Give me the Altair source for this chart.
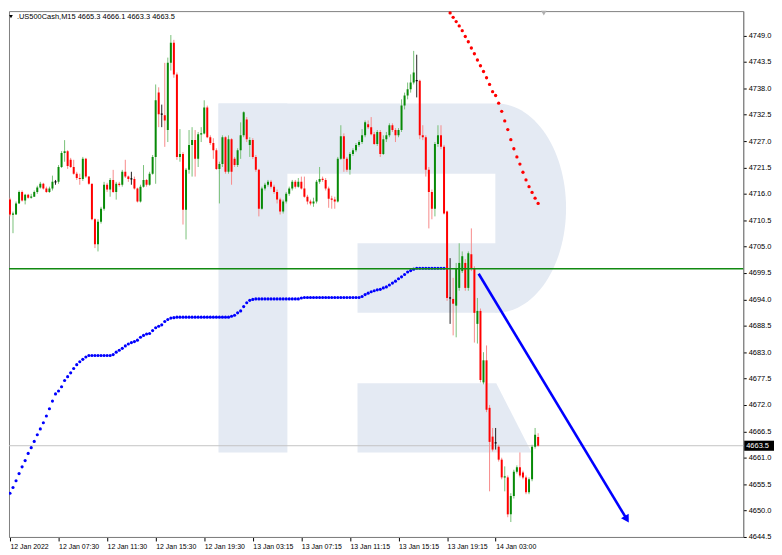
import math
import altair as alt
import pandas as pd

# ---------------- data ----------------
symbol = ".US500Cash,M15"

bar_open = [
    4714.8, 4711.7, 4711.7, 4714.0, 4716.4, 4714.6, 4715.8, 4715.2, 4715.4, 4716.4,
    4717.3, 4718.1, 4717.1, 4716.4, 4717.1, 4718.5, 4718.5, 4721.6, 4724.5, 4724.9,
    4723.1, 4721.6, 4720.2, 4719.3, 4719.1, 4723.3, 4719.6, 4718.1, 4710.7, 4705.5,
    4710.2, 4712.9, 4717.9, 4716.9, 4718.9, 4716.4, 4718.1, 4717.9, 4720.6, 4719.6,
    4719.1, 4719.1, 4717.1, 4714.4, 4717.5, 4718.9, 4717.9, 4720.2, 4723.7, 4737.1,
    4732.6, 4732.4, 4729.3, 4743.3, 4747.5, 4740.9, 4723.7, 4724.3, 4712.7, 4721.0,
    4726.2, 4727.2, 4723.3, 4728.4, 4728.6, 4734.0, 4727.8, 4726.6, 4725.1, 4721.2,
    4722.2, 4727.8, 4720.6, 4727.4, 4723.3, 4722.0, 4725.1, 4728.2, 4731.5, 4726.2,
    4727.2, 4723.7, 4721.0, 4712.9, 4717.1, 4717.9, 4718.5, 4717.5, 4716.4, 4714.8,
    4712.3, 4714.4, 4716.0, 4717.1, 4718.5, 4717.5, 4718.5, 4717.1, 4715.4, 4714.4,
    4714.0, 4714.4, 4718.5, 4719.1, 4718.9, 4717.1, 4715.0, 4714.8, 4714.4, 4723.3,
    4728.0, 4723.3, 4721.0, 4724.3, 4725.1, 4726.2, 4726.8, 4728.2, 4730.5, 4729.9,
    4728.4, 4726.4, 4728.9, 4724.3, 4727.4, 4728.2, 4730.3, 4729.3, 4728.2, 4729.3,
    4734.4, 4736.5, 4737.8, 4739.2, 4739.6, 4739.6, 4728.2, 4727.8, 4721.0, 4716.4,
    4712.9, 4726.4, 4728.2, 4725.8, 4712.3, 4694.3, 4694.1, 4692.7, 4696.4, 4699.9,
    4701.6, 4696.4, 4703.4, 4700.5, 4688.9, 4691.6, 4676.7, 4681.3, 4671.4, 4665.4,
    4664.1, 4663.3, 4660.6, 4656.9, 4656.9, 4649.2, 4653.0, 4658.1, 4659.0, 4657.9,
    4656.9, 4653.8, 4656.5, 4663.3, 4665.3,
]
bar_high = [
    4715.2, 4712.3, 4714.4, 4716.7, 4716.7, 4716.0, 4716.0, 4716.0, 4716.7, 4717.7,
    4718.5, 4718.3, 4717.5, 4717.5, 4719.8, 4718.9, 4722.0, 4724.9, 4727.2, 4725.1,
    4723.5, 4723.1, 4720.6, 4720.2, 4723.7, 4723.5, 4719.6, 4718.1, 4710.9, 4710.7,
    4713.3, 4718.5, 4718.3, 4719.3, 4721.0, 4718.5, 4718.5, 4721.0, 4723.1, 4719.8,
    4720.6, 4719.6, 4717.3, 4717.9, 4722.0, 4719.1, 4720.6, 4724.1, 4738.8, 4738.2,
    4734.6, 4743.3, 4744.4, 4749.1, 4748.1, 4741.3, 4729.5, 4724.7, 4721.4, 4729.3,
    4729.9, 4729.3, 4728.9, 4729.9, 4735.5, 4734.4, 4728.2, 4727.6, 4725.5, 4722.7,
    4728.2, 4728.0, 4728.2, 4727.6, 4723.7, 4725.5, 4730.9, 4733.2, 4732.0, 4727.8,
    4727.6, 4724.1, 4721.2, 4717.5, 4718.3, 4718.9, 4718.9, 4717.9, 4716.9, 4715.2,
    4714.8, 4716.4, 4717.5, 4718.9, 4718.9, 4719.3, 4719.6, 4719.6, 4715.8, 4714.8,
    4715.2, 4718.9, 4721.6, 4719.6, 4719.3, 4717.5, 4715.6, 4715.4, 4723.7, 4730.3,
    4728.6, 4723.7, 4724.7, 4725.5, 4726.6, 4727.2, 4729.5, 4731.3, 4731.3, 4732.0,
    4728.9, 4729.3, 4729.3, 4728.2, 4728.9, 4730.7, 4730.7, 4729.7, 4729.7, 4735.7,
    4737.1, 4739.2, 4740.9, 4745.8, 4745.0, 4739.8, 4730.3, 4728.2, 4721.6, 4716.9,
    4726.8, 4730.3, 4730.3, 4726.2, 4712.5, 4702.6, 4698.5, 4701.6, 4705.7, 4704.0,
    4702.4, 4704.0, 4708.8, 4700.9, 4694.3, 4692.1, 4683.0, 4684.4, 4672.0, 4667.2,
    4667.2, 4663.7, 4661.0, 4659.2, 4657.3, 4653.6, 4658.5, 4659.4, 4662.1, 4658.3,
    4657.3, 4656.9, 4663.7, 4667.2, 4666.1,
]
bar_low = [
    4711.3, 4707.8, 4711.7, 4714.0, 4714.4, 4713.8, 4715.0, 4715.0, 4715.4, 4716.0,
    4717.1, 4716.9, 4716.2, 4716.2, 4716.7, 4717.9, 4718.1, 4721.4, 4722.7, 4721.2,
    4721.4, 4720.0, 4718.9, 4717.9, 4718.7, 4719.3, 4717.9, 4710.5, 4704.7, 4704.0,
    4709.8, 4712.5, 4716.4, 4715.4, 4716.2, 4714.8, 4717.5, 4717.5, 4719.3, 4718.5,
    4717.9, 4716.9, 4714.2, 4714.2, 4717.3, 4717.5, 4717.7, 4720.0, 4718.1, 4729.9,
    4729.9, 4725.8, 4726.8, 4741.7, 4740.2, 4723.1, 4722.7, 4709.6, 4706.5, 4720.2,
    4719.6, 4719.6, 4721.6, 4726.8, 4728.4, 4727.6, 4726.2, 4723.3, 4721.0, 4714.0,
    4721.6, 4720.2, 4720.2, 4717.9, 4721.6, 4721.6, 4723.3, 4727.8, 4726.8, 4723.7,
    4723.3, 4720.6, 4711.3, 4712.7, 4716.7, 4717.5, 4717.1, 4716.0, 4714.0, 4711.7,
    4711.9, 4714.0, 4715.6, 4716.7, 4717.1, 4717.3, 4716.9, 4715.2, 4713.8, 4713.6,
    4713.3, 4714.0, 4718.1, 4718.5, 4716.7, 4713.1, 4712.9, 4712.9, 4714.2, 4723.1,
    4720.6, 4720.6, 4720.0, 4723.9, 4724.7, 4725.8, 4726.4, 4727.8, 4729.5, 4728.2,
    4726.2, 4726.0, 4723.7, 4724.1, 4726.8, 4727.8, 4728.9, 4726.8, 4727.8, 4728.9,
    4733.6, 4735.7, 4737.1, 4738.8, 4736.1, 4727.4, 4727.2, 4719.6, 4708.8, 4710.7,
    4711.3, 4725.8, 4725.3, 4711.7, 4693.7, 4688.9, 4686.5, 4686.1, 4695.8, 4699.5,
    4695.8, 4695.8, 4699.9, 4685.0, 4684.8, 4676.7, 4676.3, 4670.5, 4654.0, 4662.3,
    4662.7, 4660.2, 4656.5, 4654.0, 4648.6, 4647.6, 4652.5, 4657.7, 4656.9, 4656.5,
    4653.4, 4653.4, 4656.1, 4662.9, 4663.3,
]
bar_close = [
    4711.7, 4711.9, 4714.0, 4716.4, 4714.6, 4715.8, 4715.2, 4715.4, 4716.4, 4717.3,
    4718.1, 4717.1, 4716.4, 4717.1, 4718.5, 4718.5, 4721.6, 4724.5, 4724.9, 4721.8,
    4721.6, 4720.2, 4719.3, 4719.1, 4723.3, 4719.6, 4718.1, 4710.7, 4705.5, 4710.2,
    4712.9, 4717.9, 4716.9, 4718.9, 4716.4, 4718.1, 4717.9, 4720.6, 4719.6, 4719.1,
    4719.1, 4717.1, 4714.4, 4717.5, 4718.9, 4717.9, 4720.2, 4723.7, 4735.5, 4732.6,
    4732.6, 4731.3, 4743.3, 4747.5, 4740.9, 4723.7, 4724.3, 4712.7, 4721.0, 4726.2,
    4727.2, 4723.3, 4728.4, 4728.6, 4734.0, 4727.8, 4726.6, 4725.1, 4721.2, 4722.2,
    4727.8, 4720.6, 4727.4, 4720.6, 4722.0, 4725.1, 4728.2, 4733.0, 4727.4, 4727.2,
    4723.7, 4721.0, 4712.9, 4717.1, 4717.9, 4718.5, 4717.5, 4716.4, 4714.8, 4712.3,
    4714.4, 4716.0, 4717.1, 4718.5, 4717.5, 4718.5, 4717.1, 4715.4, 4714.4, 4714.0,
    4714.4, 4718.5, 4719.1, 4718.9, 4717.1, 4715.0, 4714.8, 4714.4, 4723.3, 4728.0,
    4723.3, 4721.0, 4724.3, 4725.1, 4726.2, 4726.8, 4728.2, 4730.9, 4729.9, 4728.4,
    4726.4, 4728.9, 4724.3, 4727.4, 4728.2, 4730.3, 4729.3, 4728.2, 4729.3, 4734.4,
    4736.5, 4737.8, 4739.2, 4741.3, 4739.6, 4728.2, 4727.8, 4721.0, 4716.4, 4712.9,
    4726.4, 4728.2, 4725.8, 4711.9, 4694.3, 4694.3, 4693.1, 4700.5, 4701.6, 4703.0,
    4696.4, 4703.6, 4700.5, 4691.2, 4691.6, 4677.2, 4681.3, 4671.0, 4664.3, 4662.7,
    4664.1, 4660.6, 4656.9, 4657.1, 4649.2, 4653.0, 4658.1, 4659.0, 4657.3, 4656.9,
    4653.8, 4656.5, 4663.3, 4665.8, 4663.5,
]

# blue dotted indicator, one value per bar starting at bar 0
blue_trail = [
    4653.6, 4654.8, 4656.2, 4657.7, 4659.1, 4660.4, 4661.9, 4663.1, 4664.4, 4665.8,
    4667.0, 4668.3, 4669.7, 4671.2, 4672.8, 4674.3, 4674.9, 4675.8, 4677.1, 4677.9,
    4678.7, 4679.6, 4680.4, 4681.0, 4681.5, 4682.0, 4682.3, 4682.3, 4682.3, 4682.3,
    4682.3, 4682.3, 4682.3, 4682.3, 4682.5, 4683.0, 4683.4, 4683.8, 4684.3, 4684.7,
    4685.0, 4685.2, 4685.5, 4686.1, 4686.5, 4686.8, 4686.9, 4687.5, 4688.1, 4688.4,
    4688.7, 4689.4, 4689.8, 4690.1, 4690.2, 4690.3, 4690.3, 4690.3, 4690.3, 4690.3,
    4690.3, 4690.3, 4690.3, 4690.3, 4690.3, 4690.3, 4690.3, 4690.3, 4690.3, 4690.3,
    4690.3, 4690.3, 4690.3, 4690.5, 4690.7, 4691.2, 4691.6, 4692.5, 4693.3, 4693.8,
    4694.0, 4694.1, 4694.1, 4694.1, 4694.1, 4694.1, 4694.1, 4694.1, 4694.1, 4694.1,
    4694.1, 4694.1, 4694.1, 4694.1, 4694.1, 4694.1, 4694.3, 4694.4, 4694.4, 4694.4,
    4694.4, 4694.4, 4694.4, 4694.4, 4694.4, 4694.4, 4694.4, 4694.4, 4694.4, 4694.4,
    4694.4, 4694.4, 4694.4, 4694.4, 4694.4, 4694.4, 4694.6, 4695.0, 4695.3, 4695.6,
    4695.8, 4696.0, 4696.1, 4696.4, 4696.6, 4697.0, 4697.4, 4697.8, 4698.3, 4698.7,
    4699.2, 4699.7, 4700.0, 4700.3, 4700.5, 4700.5, 4700.5, 4700.5, 4700.5, 4700.5,
    4700.5, 4700.5, 4700.5, 4700.5,
]
# red dotted indicator, one value per bar starting at bar 143
red_first_bar = 143
red_trail = [
    4755.1, 4754.5, 4753.7, 4752.8, 4751.9, 4751.0, 4750.0, 4748.8, 4747.7, 4746.4,
    4745.2, 4743.9, 4742.7, 4741.5, 4740.2, 4738.8, 4737.3, 4736.5, 4734.9, 4733.2,
    4731.2, 4729.4, 4727.3, 4725.4, 4723.7, 4722.2, 4720.5, 4718.9, 4717.5, 4716.3,
    4715.1, 4714.0,
]

time_labels = [
    "12 Jan 2022", "12 Jan 07:30", "12 Jan 11:30", "12 Jan 15:30", "12 Jan 19:30",
    "13 Jan 03:15", "13 Jan 07:15", "13 Jan 11:15", "13 Jan 15:15", "13 Jan 19:15",
    "14 Jan 03:00",
]
bars_per_label = 16
price_ticks = [
    4644.5, 4650.0, 4655.5, 4661.0, 4666.5, 4672.0, 4677.5, 4683.0, 4688.5, 4694.0,
    4699.5, 4705.0, 4710.5, 4716.0, 4721.5, 4727.0, 4732.5, 4738.0, 4743.5, 4749.0,
    4754.5,
]
green_level = 4700.4
arrow_from = [154.4, 4699.35]
arrow_to = [203.0, 4648.4]

# ---------------- derived tables ----------------
n = len(bar_close)
rows = []
for i in range(n):
    o, h, l, c = bar_open[i], bar_high[i], bar_low[i], bar_close[i]
    if c > o:
        d = "up"
    elif c < o:
        d = "down"
    else:
        d = "flat"
    lo, hi = min(o, c), max(o, c)
    if hi - lo < 0.25:
        mid = (hi + lo) / 2
        lo, hi = mid - 0.13, mid + 0.13
    rows.append(dict(i=i, o=o, h=h, l=l, c=c, lo=lo, hi=hi,
                     body={"up": "#078a07", "down": "#ff0000", "flat": "#000000"}[d],
                     wick={"up": "#79c179", "down": "#f78a8a", "flat": "#222222"}[d]))
candles = pd.DataFrame(rows)

blue_df = pd.DataFrame({"i": list(range(len(blue_trail))), "v": blue_trail})
red_df = pd.DataFrame({"i": [red_first_bar + k for k in range(len(red_trail))], "v": red_trail})

# watermark logo (R) in chart coordinates
LOGO = "#e4eaf3"
logo_rects = pd.DataFrame([
    dict(x1=68.7, x2=91.4, y1=4662.1, y2=4734.85),    # stem
    dict(x1=68.7, x2=160.4, y1=4720.2, y2=4734.85),   # top bar
    dict(x1=114.5, x2=160.4, y1=4691.2, y2=4705.7),   # middle bar
])
cx, cy, rx, ry = 160.2, 4713.03, 23.0, 21.82
bowl = []
for k in range(61):
    t = -math.pi / 2 + math.pi * k / 60
    bowl.append(dict(y=cy + ry * math.sin(t), xl=cx - 0.3, xr=cx + rx * math.cos(t)))
bowl_df = pd.DataFrame(bowl)
leg_df = pd.DataFrame([dict(y=4676.5, xl=114.5, xr=160.2), dict(y=4662.1, xl=114.5, xr=171.85)])

# ---------------- scales / axes ----------------
XS = alt.Scale(domain=[-0.32, 241.57], nice=False, zero=False, padding=0)
YS = alt.Scale(domain=[4644.48, 4754.09], nice=False, zero=False, padding=0)
label_arr = "[" + ",".join("'" + s + "'" for s in time_labels) + "]"
XA = alt.Axis(values=[k * bars_per_label for k in range(len(time_labels))],
              labelExpr=f"{label_arr}[round(datum.value/{bars_per_label})]",
              orient="bottom", grid=False, labelAlign="left", labelBaseline="top",
              labelPadding=2, tickSize=4, tickColor="#000000", domainColor="#808080",
              labelFont="Liberation Sans", labelFontSize=7, labelColor="#000000",
              labelOverlap=False, labelFlush=False, title=None)
YA = alt.Axis(values=price_ticks, format=".1f", orient="right", grid=False,
              tickSize=3, labelPadding=2, labelFont="Liberation Sans", labelFontSize=7.5,
              labelColor="#000000", tickColor="#000000", domainColor="#808080",
              labelOverlap=False, labelFlush=False, labelBaseline="middle", title=None)


def X(f, **kw):
    return alt.X(f"{f}:Q", scale=XS, axis=XA, **kw)


def Y(f, **kw):
    return alt.Y(f"{f}:Q", scale=YS, axis=YA, **kw)


# ---------------- layers ----------------
wm_rect = alt.Chart(logo_rects).mark_rect(color=LOGO).encode(
    x=X("x1"), x2="x2", y=Y("y1"), y2="y2")
wm_bowl = alt.Chart(bowl_df).mark_area(orient="horizontal", color=LOGO).encode(
    y=Y("y"), x=X("xl", stack=None), x2="xr")
wm_leg = alt.Chart(leg_df).mark_area(orient="horizontal", color=LOGO).encode(
    y=Y("y"), x=X("xl", stack=None), x2="xr")

bid_df = pd.DataFrame({"p": [bar_close[-1]], "lo": [bar_close[-1] - 1.05], "hi": [bar_close[-1] + 1.05],
                       "txt": [f"{bar_close[-1]:.1f}"]})
bid_line = alt.Chart(bid_df).mark_rule(color="#c4c4c4", strokeWidth=1).encode(y=Y("p"))

blue_dots = alt.Chart(blue_df).mark_circle(size=10, color="#0000ff", opacity=1, clip=True).encode(
    x=X("i"), y=Y("v"))
red_dots = alt.Chart(red_df).mark_circle(size=11, color="#ff0000", opacity=1, clip=True).encode(
    x=X("i"), y=Y("v"))

wicks = alt.Chart(candles).mark_rule(strokeWidth=1, clip=True).encode(
    x=X("i"), y=Y("l"), y2="h", color=alt.Color("wick:N", scale=None))
bodies = alt.Chart(candles).mark_bar(size=2, clip=True).encode(
    x=X("i"), y=Y("lo"), y2="hi", color=alt.Color("body:N", scale=None))

green_df = pd.DataFrame({"p": [green_level]})
green_line = alt.Chart(green_df).mark_rule(color="#118a11", strokeWidth=1.5).encode(y=Y("p"))

arrow_df = pd.DataFrame({"x1": [arrow_from[0]], "y1": [arrow_from[1]],
                         "x2": [arrow_to[0]], "y2": [arrow_to[1]]})
arrow_line = alt.Chart(arrow_df).mark_rule(color="#0000ff", strokeWidth=2.6).encode(
    x=X("x1"), y=Y("y1"), x2="x2", y2="y2")
arrow_head = alt.Chart(arrow_df).mark_point(shape="triangle", filled=True, color="#0000ff",
                                            opacity=1, size=80, angle=149).encode(
    x=X("x2"), y=Y("y2"))

bid_box = alt.Chart(bid_df).mark_rect(color="#000000").encode(
    x=alt.value(741), x2=alt.value(771), y=Y("lo"), y2="hi")
bid_text = alt.Chart(bid_df).mark_text(color="#ffffff", font="Liberation Sans", fontSize=7.5,
                                       align="left", baseline="middle").encode(
    x=alt.value(743), y=Y("p"), text="txt:N")

title_df = pd.DataFrame({"t": [f"{symbol}  {bar_open[-1]:.1f} {bar_high[-1]:.1f} "
                               f"{bar_low[-1]:.1f} {bar_close[-1]:.1f}"]})
title_text = alt.Chart(title_df).mark_text(color="#000000", font="Liberation Sans", fontSize=7.5,
                                           align="left", baseline="middle").encode(
    x=alt.value(8), y=alt.value(6), text="t:N")
title_tri = alt.Chart(title_df).mark_point(shape="triangle-down", filled=True, color="#000000",
                                           opacity=1, size=14).encode(
    x=alt.value(2), y=alt.value(5.5))
shift_tri = alt.Chart(title_df).mark_point(shape="triangle-down", filled=True, color="#b0b0b0",
                                           opacity=1, size=30).encode(
    x=alt.value(539), y=alt.value(2))

chart = alt.layer(
    wm_rect, wm_bowl, wm_leg, bid_line, wicks, bodies, blue_dots, red_dots, green_line,
    arrow_line, arrow_head, bid_box, bid_text, title_tri, title_text, shift_tri,
).properties(
    width=740, height=530, padding=0, background="#ffffff"
).configure_view(stroke="#808080", strokeWidth=1)

chart.save("out.html", embed_options={"renderer": "svg", "actions": False})
